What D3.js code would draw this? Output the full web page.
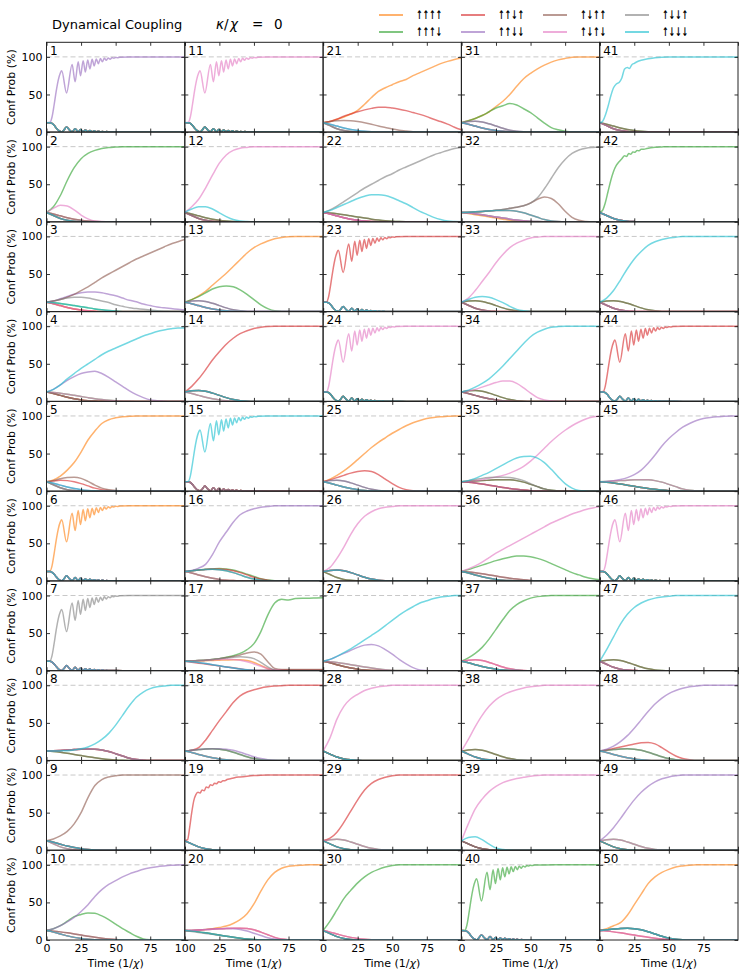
<!DOCTYPE html>
<html><head><meta charset="utf-8">
<script src="https://cdn.jsdelivr.net/npm/d3@7"></script>
<style>body{margin:0;background:#fff}svg{display:block}text{font-family:"DejaVu Sans",sans-serif;fill:#000}</style>
</head><body><svg id="c" width="747" height="978"></svg>
<script>
// ---------- labels / categories ----------
const states = ["↑↑↑↑","↑↑↑↓","↑↑↓↑","↑↑↓↓","↑↓↑↑","↑↓↑↓","↑↓↓↑","↑↓↓↓"];
const palette = ["#ff7f0e","#2ca02c","#d62728","#9467bd","#8c564b","#e377c2","#7f7f7f","#17becf"];
const timeGrid = [0,5,10,15,20,25,30,35,40,45,50,55,60,65,70,75,80,85,90,95,100];
const xTickVals = [0,25,50,75,100];
const xLabelFirst = [0,25,50,75,100];
const xLabelSecond = [25,50,75];
const xLabelOther = [0,25,50,75];
const yTickVals = [0,50,100];
const panelNumbers = d3.range(1,51);

// ---------- shared shapes (pairs [t, %]) ----------
const oscMain = [[0,12.5],[2.5,13],[4,20],[5.5,36],[7,54],[8.5,69],[10,78.5],[11,81.5],[14.5,52],[18.5,90],[20.7,67],[22.9,93.5],[24.6,75],[26.5,95],[28.1,80],[29.8,96],[31.4,84],[33,96.8],[34.5,88],[36,97.3],[37.5,91],[39,97.8],[40.4,93.5],[41.8,98.2],[43.2,95.5],[44.6,98.5],[46,97],[47.4,99],[48.7,98.3],[50,99.3],[51.3,99],[53,99.6],[60,99.9],[70,100],[100,100]];
const oscLow = [[0,12.5],[2.5,12.4],[4,11.5],[5.5,9],[7,5.5],[8.5,2.5],[10,0.8],[11,0.3],[12.5,2.5],[14.5,6.8],[16.5,3],[18.5,0.3],[20.7,4.5],[22.9,0.4],[24.6,3.4],[26.5,0.5],[28.1,2.7],[29.8,0.5],[31.4,2.2],[33,0.4],[34.5,1.6],[36,0.4],[37.5,1.2],[39,0.3],[40.4,0.9],[42,0.2],[43.5,0.6],[45,0.1],[50,0.1],[60,0],[100,0]];
const w19 = [[0,12.5],[2,14],[3.5,30],[5,50],[6.5,66],[8,74],[9.5,77],[11,76],[12.5,80],[14,79],[15.5,84],[17,83],[18.5,87],[20,86],[21.5,89],[23,88.5],[24.5,91],[26,90.5],[27.5,92.5],[29,92.5],[30.5,94],[33,95],[36,96.5],[40,97.5],[45,98.5],[50,99.3],[55,99.8],[60,100],[100,100]];
const w41 = [[0,12.5],[2,14],[4,22],[6,34],[8,48],[10,59],[12,64],[14,66],[16,72],[18,84],[20,86],[21.5,84.5],[23,89],[25,91.5],[27,93.5],[30,95.5],[35,97.5],[40,99],[50,100],[100,100]];
const w42 = [[0,12.5],[2,15],[4,25],[6,40],[8,55],[10,67],[12,75],[14,80],[16,84],[18,88],[19.5,87],[21,91],[22.5,90],[24,93],[25.5,92.5],[27,95],[28.5,94.5],[30,96.5],[32,96.5],[34,97.5],[37,98.5],[40,99.2],[45,99.7],[50,100],[100,100]];

// ---------- shared decay shapes (values on timeGrid) ----------
const dF = [12.5,8.5,4.5,2,0.8,0.3,0,0,0,0,0,0,0,0,0,0,0,0,0,0,0];
const dM = [12.5,10.5,8,5.5,3.5,2,1,0.4,0.1,0,0,0,0,0,0,0,0,0,0,0,0];
const dS = [12.5,11.8,10.8,9.5,8,6.5,5,3.6,2.4,1.4,0.7,0.3,0.1,0,0,0,0,0,0,0,0];
const bS = [12.5,14,14.5,13.5,11,8,5,2.5,1,0.3,0,0,0,0,0,0,0,0,0,0,0];
const bM = [12.5,13.5,14.5,15.3,15.5,15,13.5,11,8,5,2.5,1,0.3,0,0,0,0,0,0,0,0];
const bL = [12.5,12.9,13.4,14,14.5,15,15.2,15,14,12,9,6,3,1.2,0.3,0,0,0,0,0,0];

// ---------- dominant curves ----------
const w2  = [12.5,20,35,55,72,84,91,95,97.5,99,99.5,100,100,100,100,100,100,100,100,100,100];
const w3  = [12.5,14,16,19,23,28,33,39,45,50,55,60,65,70,74,78,82,86,90,93,96];
const w4  = [12.5,16,22,30,37,44,50,56,62,67,71,75,79,83,87,90,93,95,96.5,97.5,97.5];
const w5  = [12.5,15,20,28,38,52,68,80,90,95,97.5,99,99.5,100,100,100,100,100,100,100,100];
const w8  = [12.5,12.5,12.7,13,14,15.5,18,22,28,36,47,60,73,84,91,95.5,98,99,100,100,100];
const w9  = [12.5,15,19,25,35,50,70,86,94,97.5,99,100,100,100,100,100,100,100,100,100,100];
const w10 = [12.5,15,19,24,30,38,47,58,67,74,79,84,88,91,94,96,97.5,98.5,99.3,99.8,100];
const w12 = [12.5,20,30,45,62,78,89,95,98,99,100,100,100,100,100,100,100,100,100,100,100];
const w13 = [12.5,16,21,27,35,43,51,60,69,78,85,90,94,97,98.5,99.5,100,100,100,100,100];
const w14 = [12.5,20,30,42,55,66,76,84,90,94,97,98.5,99.5,100,100,100,100,100,100,100,100];
const w16 = [12.5,14,17,22,35,52,65,78,88,93,96,98,99,100,100,100,100,100,100,100,100];
const w17 = [12.5,13,13.5,14.2,15,16,18,20,23,28,36,52,74,90,95,94,96,96.5,96.5,96.8,97];
const w18 = [12.5,13.5,17,27,40,53,65,77,86,91,94,96.5,98,99,99.5,100,100,100,100,100,100];
const w20 = [12.5,12.8,13.3,14,15,16.5,18.5,22,27,35,48,65,80,90,95.5,98,99,99.5,100,100,100];
const w21 = [12.5,14,17,20,24,29,37,46,54,59,63,67,70,75,79,83,87,91,94,96.5,98.5];
const w22 = [12.5,16,21,27,33,39,45,50,55,60,64,69,73,77,81,85,89,92,95,97.5,99];
const w25 = [12.5,16,21,27,34,42,50,58,65,71,77,82,87,91,94,96.5,98,99,99.5,100,100];
const w26 = [12.5,18,30,45,62,76,86,92,96,98,99,100,100,100,100,100,100,100,100,100,100];
const w27 = [12.5,15,19,24,29,35,41,47,53,60,67,74,80,85,90,93,96,98,99,100,100];
const w28 = [12.5,30,55,72,82,88,93,96,98,99,100,100,100,100,100,100,100,100,100,100,100];
const w29 = [12.5,16,24,37,52,67,80,89,94,97,99,100,100,100,100,100,100,100,100,100,100];
const w30 = [12.5,25,40,55,66,76,84,90,94,97,99,100,100,100,100,100,100,100,100,100,100];
const w31 = [12.5,15,18,22,27,34,41,50,61,71,78,84,89,93,96,98,99.5,100,100,100,100];
const w32 = [12.5,12.7,13,13.5,14.3,15.3,16.5,18,19.5,21.5,25,32,44,58,72,83,91,95.5,98,99,99.5];
const w33 = [12.5,18,28,40,52,65,76,85,91,95,98,99,100,100,100,100,100,100,100,100,100];
const w34 = [12.5,15,19,24,30,38,47,57,67,77,86,92,96,98.5,99.5,100,100,100,100,100,100];
const w35 = [12.5,13,14,15.5,17,19,21,24,28,33,40,48,57,66,74,81,87,92,96,98.5,99.5];
const w36 = [12.5,16,20,25,31,37,42,47,52,57,62,67,72,77,81,85,89,92,95,97,98.5];
const w37 = [12.5,17,23,31,42,55,68,80,88,93,96.5,98.5,99.5,100,100,100,100,100,100,100,100];
const w38 = [12.5,28,45,60,72,81,87,91,94,96.5,98,99,100,100,100,100,100,100,100,100,100];
const w39 = [12.5,35,55,68,78,85,90,93,95.5,97,98.5,99.5,100,100,100,100,100,100,100,100,100];
const w43 = [12.5,18,28,42,57,70,80,88,93,96,98,99,100,100,100,100,100,100,100,100,100];
const w45 = [12.5,13,14,15.5,18,22,28,37,48,60,70,78,85,90,94,96.5,98,99,99.5,100,100];
const w47 = [12.5,28,45,62,75,84,90,94,96.5,98,99,100,100,100,100,100,100,100,100,100,100];
const w48 = [12.5,15,19,25,33,43,54,65,75,83,89,93,96,98,99,100,100,100,100,100,100];
const w49 = [12.5,20,30,42,55,67,77,85,91,95,97.5,99,100,100,100,100,100,100,100,100,100];
const w50 = [12.5,15,19,23,33,47,61,75,84,90,94,97,98.5,99.5,100,100,100,100,100,100,100];

// ---------- secondary curves ----------
const s2pink    = [12.5,18,22,21,16,9,4,1,0.3,0,0,0,0,0,0,0,0,0,0,0,0];
const s3purple  = [12.5,14,17,20,23,25,26,26,25,23,21,18,15,13,10,8,6,5,4,3,2];
const s3gray    = [12.5,14,16,18,19,19,18,16,14,12,9,7,5,4,3,2,1,0.5,0.3,0,0];
const s4purple  = [12.5,16,22,28,33,37,39,40,37,32,26,20,14,9,5,2,1,0.3,0,0,0];
const s5brown   = [12.5,14,16.5,18,18.5,17,13,8,4,2,1,0.3,0,0,0,0,0,0,0,0,0];
const s5red     = [12.5,13.5,14.5,14,12.5,10,7,4,2,1,0.3,0,0,0,0,0,0,0,0,0,0];
const s10green  = [12.5,15,19,25,31,34,36,35.5,32,27,21,15,10,5,1.5,0.3,0,0,0,0,0];
const s12cyan   = [12.5,17,20,20,17,12,7,3,1,0.3,0,0,0,0,0,0,0,0,0,0,0];
const s13green  = [12.5,16,20,25,30,33,34,33,29,23,16,9,4,1,0.3,0,0,0,0,0,0];
const s16green  = [12.5,13.5,14.5,15.5,16,16.5,16,14.5,12,9,6,3,1.2,0.3,0,0,0,0,0,0,0];
const s16red    = [12.5,13.5,14.5,15.3,16,16,15.2,13.5,11,8,5,2.5,1,0.2,0,0,0,0,0,0,0];
const s17brown  = [12.5,13,13.5,14,15,16,17.5,19,21,23.5,25,22,12,3,1.5,1.5,1.5,1.5,1.5,1.5,1.5];
const s17gray   = [12.5,13,13.5,14,15,16,17,18,18.5,18,16,11,5,1,0.3,0.3,0.3,0.3,0.3,0.3,0.3];
const s17orange = [12.5,12.8,13,13.3,13.7,14,14.3,14.5,14.5,13.5,11,7,3,0.5,0,0,0,0,0,0,0];
const s17red    = [12.5,11.3,10,8.8,7.5,6.2,5,3.8,2.5,1.2,0.5,0.5,0.8,1,1.2,1.2,1.2,1.2,1.2,1.2,1.2];
const s18purple = [12.5,13.5,14.5,15.3,15.7,15.7,15,13.5,11,8,5,2.5,1,0.3,0,0,0,0,0,0,0];
const s20bump   = [12.5,12.8,13.2,13.8,14.4,15,15.4,15.6,15.6,15.2,13.5,10.5,7,3.5,1.2,0.3,0,0,0,0,0];
const s20gray   = [12.5,11.3,10,8.8,7.5,6.2,5,3.8,2.5,1.2,0.2,0,0,0,0,0,0,0,0,0,0];
const s21red    = [12.5,14,17,21,24,27,29.5,31.5,33,33,32,30.5,28.5,26,23.5,20.5,17,14,10.5,6.5,3];
const s21brown  = [12.5,14,15,15.3,15,14,12.5,10.5,8,6,4,2.5,1.5,0.5,0,0,0,0,0,0,0];
const s22cyan   = [12.5,15,19,23,27,31,34,36,36,35,32,28,24,19,14,10,6,3,1,0.3,0];
const s25red    = [12.5,15,18,21,24,26,27,26,22,16,10,5,2,0.5,0,0,0,0,0,0,0];
const s27purple = [12.5,15,19,23,27,31,34,35,33,28,22,15,9,4,1,0.3,0,0,0,0,0];
const s31green  = [12.5,15,18,22,27,32,35,38,36,31,26,19,12,6,3,1,0,0,0,0,0];
const s32brown  = [12.5,12.7,13,13.5,14.3,15.3,16.5,18,19.5,21.5,25,30,33,31,24,14,6,2,0.5,0,0];
const s32orange = [12.5,11,9.5,8,6.5,5,3.5,2,0.8,0.2,0,0,0,0,0,0,0,0,0,0,0];
const s33cyan   = [12.5,16,19,20,19,16,12,7,3,1,0.3,0,0,0,0,0,0,0,0,0,0];
const s34pink   = [12.5,14,16,19,22,25,27,27,24,18,11,5,2,0.5,0,0,0,0,0,0,0];
const s35cyan   = [12.5,14,17,21,25,30,35,40,44,46,46.5,44,38,29,19,10,4,1,0.3,0,0];
const s35gray   = [12.5,14,15.5,17,18,18.5,18.5,18,16.5,14,10,6,3,1,0.3,0,0,0,0,0,0];
const s36green  = [12.5,15,18,21,24,27,29.5,31.5,33,33,32,30,27,23,19,15,11,8,5,3,1.5];
const s39cyan   = [12.5,17,18,14,8,3,1,0.3,0,0,0,0,0,0,0,0,0,0,0,0,0];
const s48red    = [12.5,14,16,18,20,22,23.5,24,22,17,11,6,2.5,1,0,0,0,0,0,0,0];

// ---------- panel tables ----------
const panelWinner = [3,1,4,7,0,0,6,7,4,3, 5,5,0,2,7,3,1,2,2,0, 0,6,2,5,0,5,7,5,2,1, 0,6,5,7,5,5,1,5,5,1, 7,1,7,2,3,5,7,3,3,0];
const panelMain = [oscMain,w2,w3,w4,w5,oscMain,oscMain,w8,w9,w10,
                   oscMain,w12,w13,w14,oscMain,w16,w17,w18,w19,w20,
                   w21,w22,oscMain,oscMain,w25,w26,w27,w28,w29,w30,
                   w31,w32,w33,w34,w35,w36,w37,w38,w39,oscMain,
                   w41,w42,w43,oscMain,w45,oscMain,w47,w48,w49,w50];
const panelExtras = [[],[[5,s2pink]],[[3,s3purple],[6,s3gray]],[[3,s4purple]],[[4,s5brown],[2,s5red]],[],[],[],[],[[1,s10green]],
  [],[[7,s12cyan]],[[1,s13green]],[],[],[[1,s16green],[2,s16red]],[[4,s17brown],[6,s17gray],[0,s17orange],[2,s17red]],[[3,s18purple]],[],[[2,s20bump],[5,s20bump],[6,s20gray]],
  [[2,s21red],[4,s21brown]],[[7,s22cyan]],[],[],[[2,s25red]],[],[[3,s27purple]],[],[],[],
  [[1,s31green]],[[4,s32brown],[0,s32orange]],[[7,s33cyan]],[[5,s34pink]],[[7,s35cyan],[6,s35gray]],[[1,s36green]],[],[],[[7,s39cyan]],[],
  [],[],[],[],[],[],[],[[2,s48red]],[],[]];
const panelRest = [[oscLow,oscLow],[dF,dM],[dM,dS],[dM,dS],[dF,dM],[oscLow,oscLow],[oscLow,oscLow],[bL,dS],[dM,dF],[dM,dS],
  [oscLow,oscLow],[dF,dM],[dM,bS],[bS,dM],[oscLow,oscLow],[dM,bM],[dS,bL],[dM,bM],[dF,dF],[dS,bL],
  [dF,dM],[dM,dS],[oscLow,oscLow],[oscLow,oscLow],[dM,bS],[bS,dF],[dM,dS],[dF,dF],[dF,bS],[dF,dM],
  [dM,bS],[dS,bL],[dF,bS],[dM,bS],[dS,bL],[dM,dS],[dM,bS],[dF,bS],[dF,dF],[oscLow,oscLow],
  [dF,dM],[dF,dF],[dF,bS],[oscLow,oscLow],[dS,bL],[oscLow,oscLow],[dF,bS],[dM,bM],[dF,bS],[bM,dS]];

// ---------- drawing ----------
const svg = d3.select("#c");
const gridL = 46.5, gridT = 42.3, colW = 138.3, rowH = 89.77;
const font = "DejaVu Sans";
const toPts = c => (typeof c[0] === "number") ? c.map((v,i)=>[timeGrid[i], v]) : c;

svg.append("text").attr("x",52).attr("y",29).attr("font-size",13).text("Dynamical Coupling");
const kt = svg.append("text").attr("y",29).attr("font-size",13.5);
kt.append("tspan").attr("x",216).attr("font-style","italic").text("κ");
kt.append("tspan").attr("x",224).text("/");
kt.append("tspan").attr("x",230).attr("font-style","italic").text("χ");
kt.append("tspan").attr("x",252).text("=");
kt.append("tspan").attr("x",274).text("0");

// legend
states.forEach((s,i)=>{
  const c = Math.floor(i/2), r = i%2;
  const lx = 379 + c*82, ly = 15 + r*17;
  svg.append("line").attr("x1",lx).attr("x2",lx+24).attr("y1",ly).attr("y2",ly)
     .attr("stroke",palette[i]).attr("stroke-opacity",0.6).attr("stroke-width",2);
  svg.append("text").attr("x",lx+37).attr("y",ly+4).attr("font-size",12).attr("font-weight","bold")
     .attr("textLength",26).attr("lengthAdjust","spacingAndGlyphs").text(s);
});

const defs = svg.append("defs");
panelNumbers.forEach((num,p)=>{
  const col = Math.floor(p/10), row = p%10;
  const x0 = gridL + col*colW, y0 = gridT + row*rowH;
  const x = d3.scaleLinear().domain([0,100]).range([x0, x0+colW]);
  const y = d3.scaleLinear().domain([0,119.4]).range([y0+rowH, y0]);
  const g = svg.append("g");
  defs.append("clipPath").attr("id","cp"+p).append("rect").attr("x",x0).attr("y",y0).attr("width",colW).attr("height",rowH);

  // dashed 100% reference
  g.append("line").attr("x1",x0).attr("x2",x0+colW).attr("y1",y(100)).attr("y2",y(100))
   .attr("stroke","#c8c8c8").attr("stroke-width",1).attr("stroke-dasharray","5,3");

  // curves
  const curves = new Array(8);
  curves[panelWinner[p]] = panelMain[p];
  panelExtras[p].forEach(([s,arr])=>{curves[s]=arr;});
  let k = 0;
  for (let s=0;s<8;s++){ if(!curves[s]){ curves[s] = panelRest[p][(k%3===1)?1:0]; k++; } }
  const line = d3.line().x(d=>x(d[0])).y(d=>y(d[1])).curve(d3.curveMonotoneX);
  const cg = g.append("g").attr("clip-path","url(#cp"+p+")");
  curves.forEach((c,s)=>{
    cg.append("path").attr("d",line(toPts(c))).attr("fill","none")
      .attr("stroke",palette[s]).attr("stroke-opacity",0.6).attr("stroke-width",1.5);
  });

  // axes (inward ticks)
  const labelVals = col===0 ? xLabelFirst : (col===1 ? xLabelSecond : xLabelOther);
  g.append("g").attr("transform",`translate(0,${y0+rowH})`)
    .call(d3.axisBottom(x).tickValues(row===9 ? labelVals : xTickVals).tickSizeInner(-3.5).tickSizeOuter(0).tickPadding(4)
      .tickFormat(row===9 ? d3.format("d") : ""));
  g.append("g").attr("transform",`translate(0,${y0})`)
    .call(d3.axisTop(x).tickValues(xTickVals).tickSizeInner(-3.5).tickSizeOuter(0).tickFormat(""));
  g.append("g").attr("transform",`translate(${x0},0)`)
    .call(d3.axisLeft(y).tickValues(yTickVals).tickSizeInner(-3.5).tickSizeOuter(0).tickPadding(4)
      .tickFormat(col===0 ? d3.format("d") : ""));
  g.append("g").attr("transform",`translate(${x0+colW},0)`)
    .call(d3.axisRight(y).tickValues(yTickVals).tickSizeInner(-3.5).tickSizeOuter(0).tickFormat(""));
  g.selectAll(".domain").remove();
  g.selectAll(".tick line").attr("stroke","#000").attr("stroke-width",0.8);
  g.selectAll(".tick text").attr("font-family",font).attr("font-size",11).attr("fill","#000");

  // frame
  g.append("rect").attr("x",x0).attr("y",y0).attr("width",colW).attr("height",rowH)
   .attr("fill","none").attr("stroke","#222").attr("stroke-width",1);

  // panel number
  g.append("text").attr("x",x0+3.5).attr("y",y0+12.5).attr("font-size",12).text(num);

  if (col===0){
    svg.append("text").attr("transform",`translate(15,${y0+rowH/2}) rotate(-90)`)
      .attr("text-anchor","middle").attr("font-size",11).text("Conf Prob (%)");
  }
  if (row===9){
    const t = svg.append("text").attr("x",x0+colW/2).attr("y",967).attr("text-anchor","middle").attr("font-size",11);
    t.append("tspan").text("Time (1/");
    t.append("tspan").attr("font-style","italic").text("χ");
    t.append("tspan").text(")");
  }
});
</script></body></html>
